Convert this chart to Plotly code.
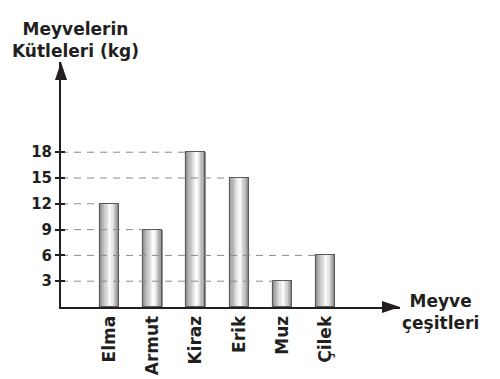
import plotly.graph_objects as go

categories = ["Elma", "Armut", "Kiraz", "Erik", "Muz", "Çilek"]
masses = [12, 9, 18, 15, 3, 6]
y_tick_values = [3, 6, 9, 12, 15, 18]
y_title = "Meyvelerin<br>Kütleleri (kg)"
x_title = "Meyve<br>çeşitleri"

positions = list(range(len(categories)))
BAR_W = 0.44
X_MIN, X_MAX = -1.123, 6.724
Y_MAX = 28.49
FONT = "DejaVu Sans"
INK = "#231f20"
N_STRIPS = 16


def shade(t):
    if t < 0.55:
        v = 0x8a + (0xFF - 0x8a) * (t / 0.55) ** 0.9
    else:
        v = 0xFF - (0xFF - 0x88) * ((t - 0.55) / 0.45) ** 1.2
    v = int(round(v))
    return f"rgb({v},{v},{v})"


fig = go.Figure()

# dashed guide lines from the y axis to each bar
for i, m in zip(positions, masses):
    fig.add_trace(go.Scatter(
        x=[X_MIN, i - BAR_W / 2], y=[m, m], mode="lines",
        line=dict(color="#8a8a8a", width=1, dash="7px,6px"),
        hoverinfo="skip", showlegend=False))

# gradient bars as thin strips
sw = BAR_W / N_STRIPS
for k in range(N_STRIPS):
    c = shade((k + 0.5) / N_STRIPS)
    fig.add_trace(go.Bar(
        x=positions, y=masses, width=sw * 1.05, offset=-BAR_W / 2 + k * sw,
        marker=dict(color=c, line=dict(width=0)),
        hoverinfo="skip", showlegend=False))

# outline
fig.add_trace(go.Bar(
    x=positions, y=masses, width=BAR_W, offset=-BAR_W / 2,
    marker=dict(color="rgba(0,0,0,0)", line=dict(color="#5a5a5a", width=1.1)),
    hoverinfo="skip", showlegend=False))

# invisible trace for the overlay axis (inner tick halves)
fig.add_trace(go.Scatter(x=[None], y=[None], yaxis="y2", showlegend=False))

fig.update_layout(
    width=492, height=371,
    margin=dict(l=53, r=100, t=54, b=72, autoexpand=False),
    paper_bgcolor="white", plot_bgcolor="white",
    barmode="overlay", bargap=0,
    showlegend=False,
    xaxis=dict(
        range=[X_MIN, X_MAX], tickvals=positions, ticktext=categories,
        tickangle=-90, showline=True, linecolor=INK, linewidth=2,
        showgrid=False, zeroline=False, ticks="", automargin=False,
        tickfont=dict(family=FONT, size=17, color=INK, weight="bold"),
    ),
    yaxis=dict(
        range=[0, Y_MAX], tickvals=y_tick_values, automargin=False,
        showline=True, linecolor=INK, linewidth=2,
        showgrid=False, zeroline=False,
        ticks="outside", ticklen=4, tickwidth=2, tickcolor=INK,
        tickfont=dict(family=FONT, size=15, color=INK, weight="bold"),
    ),
    yaxis2=dict(
        range=[0, Y_MAX], tickvals=y_tick_values, overlaying="y", anchor="x",
        side="left", ticks="inside", ticklen=4, tickwidth=2, tickcolor=INK,
        showticklabels=False, showgrid=False, zeroline=False, showline=False,
        automargin=False,
    ),
    shapes=[
        dict(type="path", xref="paper", yref="paper", xsizemode="pixel",
             ysizemode="pixel", xanchor=0, yanchor=1,
             path="M-6,-18 L0,0 L6,-18 Z", fillcolor=INK, line=dict(width=0)),
        dict(type="path", xref="paper", yref="paper", xsizemode="pixel",
             ysizemode="pixel", xanchor=1, yanchor=0,
             path="M-18,6 L0,0 L-18,-6 Z", fillcolor=INK, line=dict(width=0)),
    ],
    annotations=[
        dict(text=y_title, xref="paper", yref="paper", x=0.044, y=1.09,
             xanchor="center", yanchor="middle", showarrow=False,
             font=dict(family=FONT, size=17, color=INK, weight="bold")),
        dict(text=x_title, xref="paper", yref="paper", x=1.118, y=-0.02,
             xanchor="center", yanchor="middle", showarrow=False,
             font=dict(family=FONT, size=17, color=INK, weight="bold")),
    ],
)

fig.write_html("out.html")
